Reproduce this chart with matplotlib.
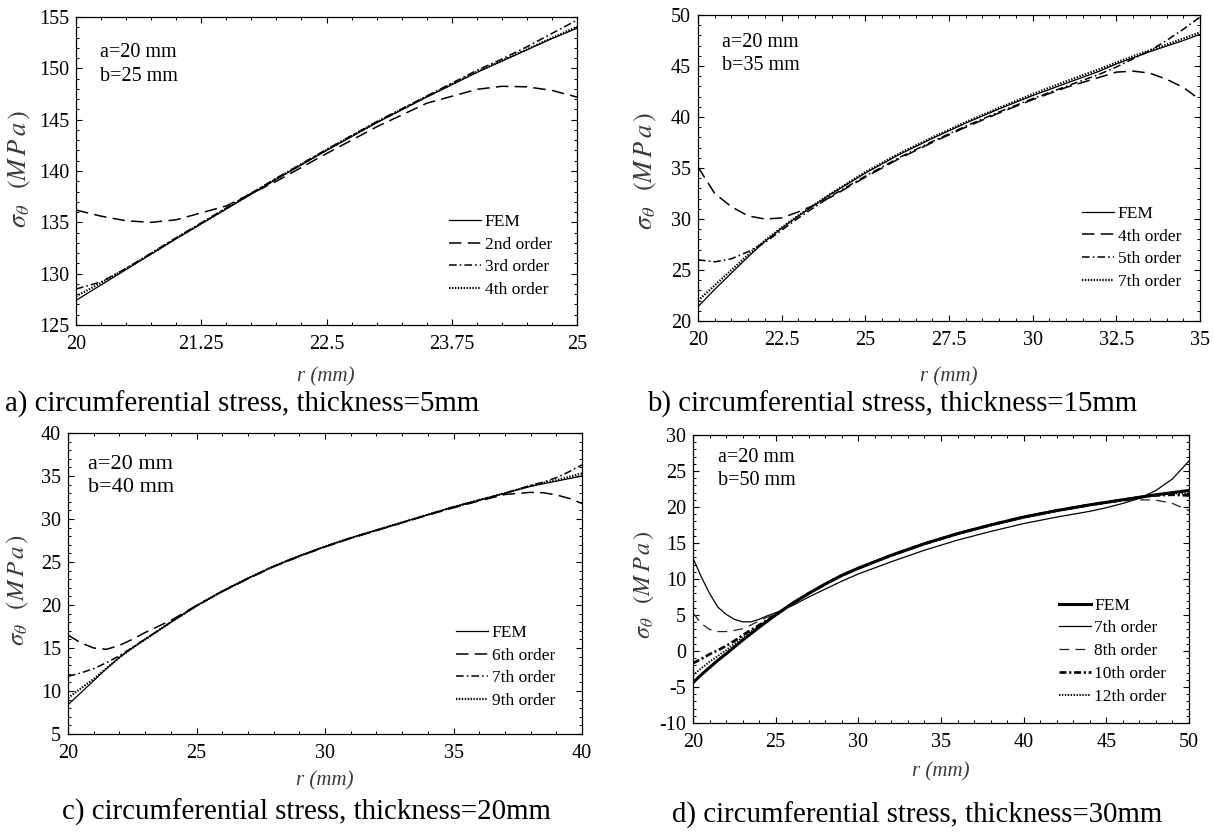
import matplotlib
matplotlib.use('Agg')
import matplotlib.pyplot as plt
from matplotlib.ticker import MultipleLocator, FormatStrFormatter

plt.rcParams['font.family'] = ['Liberation Serif', 'DejaVu Serif']
plt.rcParams['mathtext.fontset'] = 'stix'
plt.rcParams['lines.scale_dashes'] = False
plt.rcParams['axes.unicode_minus'] = False

### Data
## a) thickness = 5 mm
ra = [20, 20.25, 20.5, 20.75, 21, 21.5, 22, 22.5, 23, 23.5, 24, 24.25, 24.5, 24.75, 25]
a_fem = [127.4, 128.9, 130.4, 131.9, 133.4, 136.3, 139.2, 142.0, 144.7, 147.2, 149.6, 150.7, 151.8, 152.9, 153.9]
a_o2 = [136.2, 135.6, 135.15, 135.0, 135.25, 136.6, 139.0, 141.7, 144.3, 146.6, 147.95, 148.25, 148.2, 147.85, 147.2]
a_o3 = [128.5, 129.2, 130.5, 132.0, 133.5, 136.4, 139.3, 142.1, 144.8, 147.3, 149.8, 150.9, 152.1, 153.4, 154.7]
a_o4 = [127.8, 129.1, 130.5, 131.95, 133.45, 136.35, 139.25, 142.05, 144.75, 147.25, 149.65, 150.75, 151.85, 152.95, 154.05]

## b) thickness = 15 mm
rb = [20, 20.5, 21, 21.5, 22, 22.5, 23, 23.5, 24, 25, 26, 27, 28, 29, 30, 31, 32, 32.5, 33, 33.5, 34, 34.5, 35]
b_fem = [21.4, 23.1, 24.7, 26.3, 27.8, 29.1, 30.3, 31.4, 32.5, 34.5, 36.3, 37.9, 39.4, 40.8, 42.1, 43.3, 44.5, 45.2, 45.8, 46.4, 46.95, 47.5, 48.1]
b_o4 = [35.1, 32.5, 31.2, 30.3, 30.0, 30.1, 30.7, 31.4, 32.2, 34.1, 35.9, 37.5, 39.0, 40.4, 41.7, 42.9, 43.9, 44.4, 44.5, 44.3, 43.7, 42.9, 41.7]
b_o5 = [26.0, 25.8, 26.1, 26.8, 27.7, 28.9, 30.1, 31.2, 32.3, 34.2, 36.0, 37.6, 39.1, 40.5, 41.8, 43.0, 44.2, 44.9, 45.7, 46.5, 47.5, 48.6, 49.8]
b_o7 = [22.0, 23.5, 25.0, 26.5, 27.9, 29.15, 30.35, 31.45, 32.55, 34.6, 36.4, 38.0, 39.5, 40.9, 42.25, 43.5, 44.7, 45.35, 45.95, 46.55, 47.1, 47.7, 48.3]

## c) thickness = 20 mm
rc = [20, 20.5, 21, 21.5, 22, 22.5, 23, 23.5, 24, 25, 26, 27, 28, 29, 30, 31, 32, 33, 34, 35, 36, 37, 38, 38.5, 39, 39.5, 40]
c_fem = [8.4, 9.8, 11.2, 12.6, 13.9, 15.0, 16.0, 17.0, 18.0, 19.9, 21.6, 23.1, 24.5, 25.7, 26.8, 27.8, 28.7, 29.6, 30.5, 31.4, 32.2, 33.0, 33.8, 34.1, 34.4, 34.7, 35.0]
c_o6 = [16.5, 15.6, 15.0, 14.85, 15.3, 16.0, 16.8, 17.5, 18.2, 19.95, 21.55, 23.05, 24.45, 25.65, 26.75, 27.75, 28.65, 29.55, 30.45, 31.3, 32.1, 32.85, 33.1, 33.05, 32.8, 32.4, 31.8]
c_o7 = [11.7, 12.1, 12.6, 13.3, 14.1, 15.05, 16.05, 17.0, 18.0, 19.9, 21.6, 23.1, 24.5, 25.7, 26.8, 27.8, 28.7, 29.6, 30.5, 31.4, 32.2, 33.0, 33.9, 34.3, 34.8, 35.5, 36.3]
c_o9 = [9.2, 10.3, 11.4, 12.65, 13.9, 15.0, 16.0, 17.0, 18.0, 19.9, 21.6, 23.1, 24.5, 25.7, 26.8, 27.8, 28.7, 29.6, 30.5, 31.4, 32.2, 33.0, 33.85, 34.2, 34.5, 34.9, 35.3]

## d) thickness = 30 mm
rd = [20, 20.5, 21, 21.5, 22, 22.5, 23, 23.5, 24, 24.5, 25, 26, 27, 28, 29, 30, 32, 34, 36, 38, 40, 42, 44, 45, 46, 47, 48, 49, 50]
d_fem = [-4.4, -3.3, -2.3, -1.3, -0.4, 0.55, 1.5, 2.4, 3.3, 4.15, 5.0, 6.6, 8.0, 9.3, 10.5, 11.5, 13.3, 14.9, 16.3, 17.5, 18.6, 19.5, 20.3, 20.65, 21.0, 21.35, 21.7, 22.0, 22.3]
d_o7 = [12.9, 10.3, 8.0, 6.1, 5.1, 4.4, 4.05, 4.05, 4.4, 4.9, 5.3, 6.3, 7.5, 8.6, 9.7, 10.7, 12.4, 14.0, 15.4, 16.6, 17.7, 18.6, 19.4, 19.9, 20.5, 21.2, 22.3, 23.9, 26.4]
d_o8 = [5.3, 3.8, 3.0, 2.7, 2.7, 2.85, 3.1, 3.6, 4.2, 4.7, 5.1, 6.5, 7.9, 9.2, 10.4, 11.4, 13.2, 14.8, 16.2, 17.4, 18.5, 19.4, 20.2, 20.55, 20.85, 21.0, 20.95, 20.5, 19.5]
d_o10 = [-1.7, -1.1, -0.45, 0.1, 0.7, 1.4, 2.2, 2.9, 3.6, 4.3, 5.0, 6.6, 8.0, 9.3, 10.5, 11.5, 13.3, 14.9, 16.3, 17.5, 18.6, 19.5, 20.3, 20.65, 21.0, 21.35, 21.6, 21.7, 21.6]
d_o12 = [-3.4, -2.4, -1.5, -0.7, 0.1, 1.0, 1.9, 2.7, 3.45, 4.25, 5.0, 6.6, 8.0, 9.3, 10.5, 11.5, 13.3, 14.9, 16.3, 17.5, 18.6, 19.5, 20.3, 20.65, 21.0, 21.35, 21.7, 21.9, 21.9]

W, H = 1214, 833

### line styles
FEM = dict(color='k', lw=0.9, linestyle='-')
DASH = dict(color='k', lw=1.1, dashes=(9, 4.5))
DASHDOT = dict(color='k', lw=1.1, dashes=(5.5, 2.2, 1.2, 2.2))
DOT = dict(color='k', lw=1.6, dashes=(1.0, 1.1))

fig = plt.figure(figsize=(W / 100, H / 100), dpi=100)

def px_axes(x0, x1, y0, y1):
    # axes from pixel box (top-left origin)
    return fig.add_axes([x0 / W, 1 - y1 / H, (x1 - x0) / W, (y1 - y0) / H])

def style(ax, xlim, ylim, xmaj, xmin, ymaj, xticks=None):
    ax.set_xlim(xlim)
    ax.set_ylim(ylim)
    if xticks is not None:
        ax.set_xticks(xticks)
    else:
        ax.xaxis.set_major_locator(MultipleLocator(xmaj))
    ax.xaxis.set_major_formatter(FormatStrFormatter('%g'))
    ax.xaxis.set_minor_locator(MultipleLocator(xmin))
    ax.yaxis.set_major_locator(MultipleLocator(ymaj))
    ax.yaxis.set_minor_locator(MultipleLocator(1))
    ax.tick_params(which='both', direction='in', top=True, right=True, labelsize=14.5)
    ax.tick_params(which='major', length=4.5, width=0.8)
    ax.tick_params(which='minor', length=2.3, width=0.7)
    ax.tick_params(axis='x', pad=7)
    ax.tick_params(axis='y', pad=5)
    for s in ax.spines.values():
        s.set_linewidth(0.9)

def labels(px_ylab, py_ylab, px_xlab, py_xlab, ysize=19):
    fig.text(px_ylab / W, 1 - py_ylab / H, r'$\sigma_\theta\;\;\;(M\,P\,a\,)$', rotation=90,
             ha='center', va='center', fontsize=ysize, color='#3a3a3a')
    fig.text(px_xlab / W, 1 - py_xlab / H, 'r (mm)', style='italic',
             ha='center', va='center', fontsize=15, color='#3a3a3a')

def caption(px, py, txt):
    fig.text(px / W, 1 - py / H, txt, ha='left', va='center', fontsize=20.8)

def legend(ax, handles, names, x, y):
    ax.legend(handles, names, loc='upper left', bbox_to_anchor=(x, y), frameon=False,
              fontsize=12.5, handlelength=1.85, handletextpad=0.2, labelspacing=0.38,
              borderpad=0, borderaxespad=0)

def note(ax, y, txt, size=14.5, x=0.048):
    ax.text(x, y, txt, transform=ax.transAxes, fontsize=size,
            va='center', ha='left', linespacing=1.32)

### a)
ax = px_axes(76, 577, 17, 325)
l1, = ax.plot(ra, a_fem, **FEM)
l2, = ax.plot(ra, a_o2, **DASH)
l3, = ax.plot(ra, a_o3, **DASHDOT)
l4, = ax.plot(ra, a_o4, **DOT)
style(ax, (20, 25), (125, 155), None, 0.25, 5, xticks=[20, 21.25, 22.5, 23.75, 25])
legend(ax, [l1, l2, l3, l4], ['FEM', '2nd order', '3rd order', '4th order'], 0.745, 0.361)
note(ax, 0.846, 'a=20 mm\nb=25 mm')
labels(20, 169, 326, 377)
caption(5, 404, 'a) circumferential stress, thickness=5mm')

### b)
ax = px_axes(698, 1200, 15, 321)
l1, = ax.plot(rb, b_fem, **FEM)
l2, = ax.plot(rb, b_o4, **DASH)
l3, = ax.plot(rb, b_o5, **DASHDOT)
l4, = ax.plot(rb, b_o7, **DOT)
style(ax, (20, 35), (20, 50), 2.5, 0.5, 5)
legend(ax, [l1, l2, l3, l4], ['FEM', '4th order', '5th order', '7th order'], 0.765, 0.377)
note(ax, 0.873, 'a=20 mm\nb=35 mm', x=0.047)
labels(646, 171, 949, 377)
caption(647, 404, 'b) circumferential stress, thickness=15mm')

### c)
ax = px_axes(68, 582, 433, 734)
l1, = ax.plot(rc, c_fem, **FEM)
l2, = ax.plot(rc, c_o6, **DASH)
l3, = ax.plot(rc, c_o7, **DASHDOT)
l4, = ax.plot(rc, c_o9, **DOT)
style(ax, (20, 40), (5, 40), 5, 1, 5)
legend(ax, [l1, l2, l3, l4], ['FEM', '6th order', '7th order', '9th order'], 0.755, 0.363)
note(ax, 0.857, 'a=20 mm\nb=40 mm', size=16, x=0.038)
labels(18, 590, 325, 781, ysize=18)
caption(62, 812, 'c) circumferential stress, thickness=20mm')

### d)
ax = px_axes(693, 1189, 435, 723)
l1, = ax.plot(rd, d_fem, color='k', lw=2.2)
l2, = ax.plot(rd, d_o7, color='k', lw=0.9)
l3, = ax.plot(rd, d_o8, color='#222222', lw=0.9, dashes=(7, 4.5))
l4, = ax.plot(rd, d_o10, color='k', lw=1.9, dashes=(5, 2, 1.5, 2))
l5, = ax.plot(rd, d_o12, color='k', lw=1.4, dashes=(1.0, 1.1))
style(ax, (20, 50), (-10, 30), 5, 1, 5)
legend(ax, [l1, l2, l3, l4, l5], ['FEM', '7th order', '8th order', '10th order', '12th order'],
       0.737, 0.436)
note(ax, 0.882, 'a=20 mm\nb=50 mm', x=0.05)
labels(644, 585, 941, 772, ysize=17.5)
caption(672, 815, 'd) circumferential stress, thickness=30mm')

fig.savefig('out.png', dpi=100)
